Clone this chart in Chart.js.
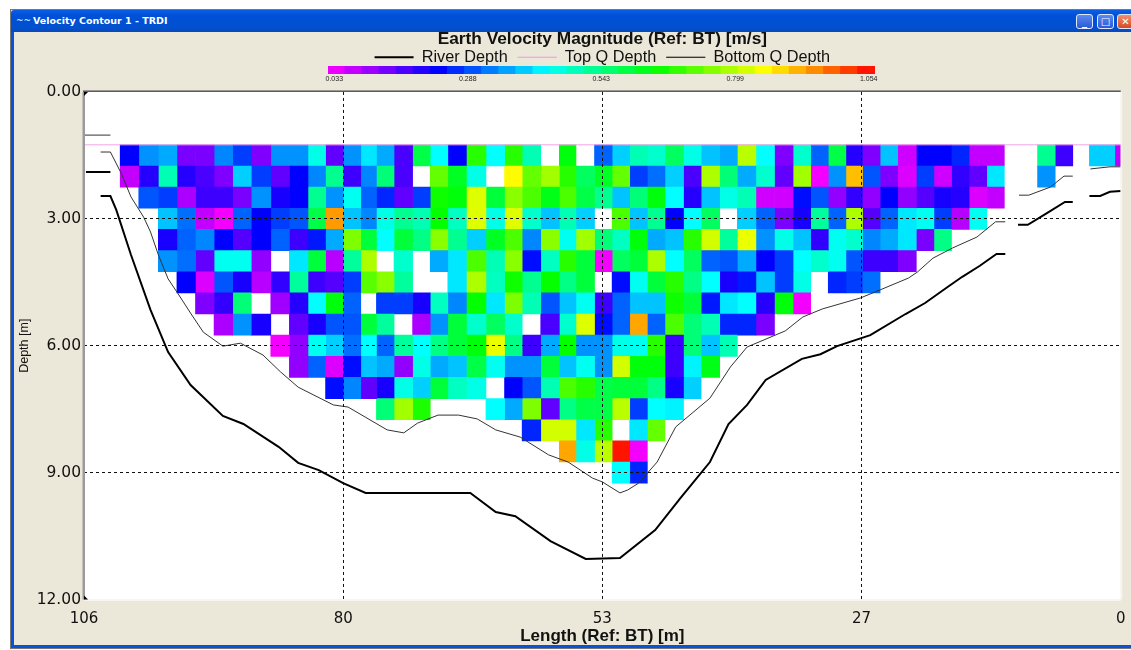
<!DOCTYPE html>
<html><head><meta charset="utf-8"><title>Velocity Contour 1 - TRDI</title>
<script src="https://cdn.jsdelivr.net/npm/chart.js@4"></script>
<style>
html,body{margin:0;padding:0;background:#fff;overflow:hidden}
#win{position:absolute;left:10px;top:9px;width:1121px;height:640px;background:#ece8d9;box-sizing:border-box;border:1px solid #777;border-right:none}
#bar{position:absolute;left:0;top:0;right:0;height:22px;background:linear-gradient(#0a5fe0,#0050d8 25%,#0050d0 80%,#0a48b8);border-radius:3px 0 0 0}
#ttl{position:absolute;left:22px;top:5px;font:bold 9.5px "DejaVu Sans",sans-serif;color:#fff;white-space:nowrap}
#ico{position:absolute;left:5px;top:5px;font:bold 9px "DejaVu Sans",sans-serif;color:#cfe0ff}
.edge{position:absolute;background:#0a50d8}
.btn{position:absolute;top:4px;width:17px;height:15px;box-sizing:border-box;border:1px solid #dfe8ff;border-radius:3px;background:linear-gradient(#5a8cf0,#2a58d8);color:#fff;font:bold 10px "DejaVu Sans",sans-serif;text-align:center;line-height:13px}
#c{position:absolute;left:0;top:0}
#cb{position:absolute;left:320px;top:62px}
</style></head><body>
<div id="win">
 <div id="bar"><span id="ico">~~</span><span id="ttl">Velocity Contour 1 - TRDI</span>
  <div class="btn" style="left:1065px">_</div><div class="btn" style="left:1086px">□</div><div class="btn" style="left:1106px;background:linear-gradient(#f09070,#d84a20)">✕</div></div>
 <div class="edge" style="left:0;top:22px;bottom:0;width:3px"></div>
 <div class="edge" style="left:0;right:0;bottom:0;height:3px"></div>
</div>
<canvas id="c" width="1131" height="650"></canvas>
<canvas id="cb" width="563" height="24"></canvas>
<script>
const chartTitle = 'Earth Velocity Magnitude (Ref: BT) [m/s]';
const xTitle = 'Length (Ref: BT) [m]';
const yTitle = 'Depth [m]';
const colorbarTicks = [0.033, 0.288, 0.543, 0.799, 1.054];

// ensemble edges along the track [m]
const columnEdges = [102.3,100.4,98.4,96.5,94.6,92.7,90.8,88.9,86.9,85.0,83.1,81.3,79.5,77.7,76.1,74.3,72.4,70.6,68.8,66.9,64.9,63.0,61.2,59.3,57.4,55.7,53.8,52.0,50.2,48.4,46.6,44.7,42.9,41.0,39.2,37.3,35.4,33.5,31.7,29.9,28.1,26.4,24.6,22.8,20.9,19.1,17.3,15.5,13.7,11.9,10.2,8.5,6.7,4.9,3.2,1.9,0.6,0];
const firstBinTop = 1.25, binHeight = 0.5;
const _ = null;
// velocity magnitude [m/s], one row per depth bin, one entry per ensemble
const velocityRows = [
[.23,.35,.37,.13,.13,.34,.28,.125,.35,.35,.46,.15,.35,.42,.37,.17,.59,.44,.23,.68,.44,.68,.5,_,.64,_,.31,.40,.5,.48,.57,.46,.39,.37,.8,.44,.125,.48,.31,.59,.2,.125,.39,.06,.23,.23,.26,.07,.07,_,_,.53,.18,_,.40,.40,.08],
[.07,.2,.5,.2,.17,.125,.40,.28,.15,.23,.34,.53,.18,.34,.55,.17,_,.73,.62,.46,_,.86,.73,.78,.68,.57,.62,.73,.28,.32,.40,.17,.79,.55,.37,.48,.15,.78,.03,.35,.91,.30,.125,.05,.28,.06,.19,.15,.42,_,_,.35],
[_,.30,.28,.09,.18,.18,.13,.35,.21,.23,.53,.35,.45,.31,.26,.15,.28,.66,.64,.83,.6,.76,.71,.63,.71,.59,.53,.39,.55,.64,.44,.2,.39,.46,.5,.06,.06,.24,.30,.11,.19,.11,.23,.11,.16,.21,.2,.05,.07],
[_,_,.39,.32,.07,.03,.31,.23,.28,.30,.59,.94,.39,.34,.46,.53,.5,.65,.49,.83,.46,.83,.48,.39,.5,.40,_,.71,.39,.53,.23,.44,.57,_,.40,.31,.13,.21,.52,.31,.79,.16,.31,.42,.45,.28,.08,.45],
[_,_,.21,.31,.34,.23,.16,.23,.31,.18,.25,.37,.75,.6,.44,.6,.54,.76,.53,.40,.62,.71,.34,.76,.45,.78,.55,.49,.64,.37,.39,.68,.82,.52,.84,.35,.46,.39,.19,.45,.48,.34,.37,.42,.13,.54],
[_,_,.35,.32,.15,.45,.45,.11,_,.42,.6,.08,.52,.79,_,.48,_,.37,.42,.71,.5,.76,.24,.49,.68,.6,.03,.57,.6,.79,.44,.57,.31,.30,.37,.23,.28,.44,.48,.45,.30,.18,.18,.125],
[_,_,_,.23,.05,.30,.21,.08,.19,.52,.18,.16,.28,.72,.76,.52,_,_,.42,.79,.49,.66,.53,.65,.54,.6,_,.24,.45,.6,.68,.54,.44,.21,.25,.39,.28,.46,_,.26,.28,.32],
[_,_,_,_,.125,.19,.55,_,.1,.2,.44,.64,.31,_,.28,.28,.21,.49,.34,.65,.42,.75,.5,.30,.39,.45,.18,.31,.39,.39,.66,.6,.25,.42,.44,.2,.64,.03],
[_,_,_,_,_,.09,.35,.21,_,.15,.21,.30,.30,.6,.52,_,.09,.35,.6,.48,.57,.48,_,.17,.48,.83,.24,.31,.93,.31,.71,.55,.5,.26,.26,.13],
[_,_,_,_,_,_,_,_,.03,.11,.45,.40,.32,.44,.31,.52,.44,.54,.6,.64,.84,.54,.18,.37,.65,.35,.35,.46,.45,.68,.18,.55,.39,.5],
[_,_,_,_,_,_,_,_,_,.11,.31,.05,.24,.39,.37,.11,.46,.37,.39,.59,.45,.35,.35,.6,.39,.45,.35,.82,.64,.64,.18,.43,.63],
[_,_,_,_,_,_,_,_,_,_,_,.24,.34,.15,.21,.46,.40,.6,.49,.46,_,.23,.30,.5,.71,.68,.59,.6,.6,.54,.21,.40],
[_,_,_,_,_,_,_,_,_,_,_,_,_,_,.55,.78,.67,_,_,_,.44,.37,.75,.15,.54,.59,.59,.8,.28,.44,.43],
[_,_,_,_,_,_,_,_,_,_,_,_,_,_,_,_,_,_,_,_,_,_,.26,.82,.82,.42,.68,_,.42,.73],
[_,_,_,_,_,_,_,_,_,_,_,_,_,_,_,_,_,_,_,_,_,_,_,_,.93,.46,.8,1.05,.03],
[_,_,_,_,_,_,_,_,_,_,_,_,_,_,_,_,_,_,_,_,_,_,_,_,_,_,_,.44,.26]
];

const riverLength = [105.8,103.3,_,104.3,103.3,102.7,101.2,99.2,97.4,95.1,91.8,89.7,86.1,84.1,82.0,79.5,77.2,66.5,63.9,61.9,58.3,54.7,51.2,47.6,45.0,42.0,40.1,38.2,36.3,32.6,30.7,29.0,25.6,22.0,20.0,17.7,16.2,14.4,12.7,11.8,_,10.5,9.5,7.5,5.7,4.9,_,3.2,2.1,1.1,0];
const riverDepth  = [1.89,1.89,_,2.46,2.46,2.79,3.85,5.15,6.15,6.93,7.66,7.85,8.39,8.77,8.94,9.25,9.48,9.48,9.93,10.03,10.62,11.04,11.02,10.36,9.60,8.75,7.85,7.40,6.81,6.31,6.20,6.01,5.75,5.25,4.99,4.61,4.37,4.11,3.83,3.83,_,3.14,3.14,2.86,2.60,2.60,_,2.46,2.46,2.36,2.34];
const bottomQLength = [105.9,103.3,_,104.3,103.3,102.2,101.2,99.9,99.2,98.4,97.4,96.3,95.1,93.8,91.8,90.0,87.7,85.9,84.1,80.5,79.0,75.0,73.3,71.9,69.8,67.7,65.8,63.9,61.4,58.5,56.5,54.0,53.0,51.2,50.4,49.3,47.4,45.5,42.0,39.9,38.2,34.3,32.5,30.5,26.6,24.6,21.7,20.8,19.2,17.2,14.7,12.8,11.8,_,10.4,9.4,7.2,5.8,4.9,_,3.1,1.1,0];
const bottomQDepth  = [1.02,1.02,_,1.42,1.42,1.92,2.48,2.96,3.31,3.85,4.42,4.80,5.23,5.68,6.01,5.94,6.22,6.62,6.98,7.40,7.45,7.99,8.06,7.83,7.64,7.64,7.73,7.99,8.16,8.58,8.75,9.13,9.22,9.48,9.41,9.25,8.75,7.92,7.24,6.50,6.03,5.65,5.32,5.13,4.87,4.68,4.40,4.26,3.93,3.69,3.43,3.07,3.07,_,2.44,2.44,2.25,1.99,1.99,_,1.82,1.77,1.77];
const topQLength = [106,0];
const topQDepth  = [1.25,1.25];

const V_MIN = 0.021, V_MAX = 1.066;
function velocityColor(v){
  const h = 300*(1-(v-V_MIN)/(V_MAX-V_MIN));
  return 'hsl('+Math.max(0,h).toFixed(1)+',100%,50%)';
}
const zipLine = (xs,ys)=>xs.map((x,i)=>({x:x===null?NaN:x,y:ys[i]}));

const plotLeft=84, plotRight=1120.7, plotTop=92, plotBottom=599.5;
const pxPerMetre=(plotRight-plotLeft)/106;

const columnDatasets = columnEdges.slice(0,-1).map((edge,c)=>{
  const next=columnEdges[c+1];
  const cells=[];
  velocityRows.forEach((row,r)=>{
    const v=row[c];
    if(v===null||v===undefined) return;
    const top=firstBinTop+r*binHeight;
    cells.push({x:(edge+next)/2,y:[top,top+binHeight],v});
  });
  return {type:'bar',label:'Ensemble '+(c+1),data:cells,grouped:false,order:2,
    barThickness:(edge-next)*pxPerMetre,borderWidth:0,borderSkipped:false,
    backgroundColor:ctx=>ctx.raw?velocityColor(ctx.raw.v):'transparent'};
});

const lineNames=['River Depth','Top Q Depth','Bottom Q Depth'];
const lineDatasets=[
 {type:'line',label:lineNames[0],data:zipLine(riverLength,riverDepth),borderColor:'#000',backgroundColor:'#000',borderWidth:2,pointRadius:0,tension:0,order:0},
 {type:'line',label:lineNames[1],data:zipLine(topQLength,topQDepth),borderColor:'#f4a4e8',backgroundColor:'#f4a4e8',borderWidth:1,pointRadius:0,tension:0,order:0},
 {type:'line',label:lineNames[2],data:zipLine(bottomQLength,bottomQDepth),borderColor:'#333',backgroundColor:'#333',borderWidth:1,pointRadius:0,tension:0,order:0}
];

const framePlugin={id:'frame',
 beforeLayout(chart){
  if(chart.legend&&!chart.legend._fixed){
   const fit=chart.legend.fit;
   chart.legend.fit=function(){fit.call(this);this.height=plotTop-39.2;};
   chart.legend._fixed=true;
  }
 },
 beforeDraw(chart){
  const a=chart.chartArea,c=chart.ctx;
  c.save();c.fillStyle='#fff';c.fillRect(a.left,a.top,a.width,a.height);c.restore();
 },
 afterDraw(chart){
  const a=chart.chartArea,c=chart.ctx;
  c.save();
  c.fillStyle='#f6f5f0';c.fillRect(a.left,a.bottom,a.width,1.5);c.fillRect(a.right,a.top,1.5,a.height);
  c.fillStyle='#555';c.fillRect(a.left-1,a.top-1.5,a.width+1,1.5);
  c.fillStyle='#9a9a9a';c.fillRect(a.left-1.5,a.top,2.5,a.height);
  c.fillStyle='#000';
  [[a.top,1],[a.bottom,-1]].forEach(([y,s])=>{c.beginPath();c.moveTo(a.left,y);c.lineTo(a.left+4,y);c.lineTo(a.left,y+4*s);c.fill();});
  c.restore();
 }};

const edgeGrid=(lo,hi)=>ctx=>{const v=ctx.tick&&ctx.tick.value;return (v===lo||v===hi)?'rgba(0,0,0,0)':'#111';};
new Chart(document.getElementById('c'),{
 type:'bar',
 data:{datasets:[...lineDatasets,...columnDatasets]},
 plugins:[framePlugin],
 options:{responsive:false,animation:false,events:[],
  layout:{padding:0},
  plugins:{
   tooltip:{enabled:false},
   title:{display:true,text:chartTitle,fullSize:false,color:'#111',font:{family:'"Liberation Sans"',size:17.3,weight:'bold',lineHeight:1.2},padding:{top:29.2,bottom:-10.8}},
   legend:{display:true,fullSize:false,position:'top',labels:{filter:i=>lineNames.includes(i.text),color:'#111',font:{family:'"Liberation Sans"',size:16.3},boxWidth:39,boxHeight:0,padding:10}}
  },
  scales:{
   x:{type:'linear',reverse:true,min:0,max:106,offset:false,
    afterFit(s){s.height=650-plotBottom;s.paddingRight=1131-plotRight;s.paddingLeft=0;},
    ticks:{stepSize:26.5,autoSkip:false,maxRotation:0,padding:11,color:'#111',font:{family:'"DejaVu Sans"',size:15},callback:v=>String(Math.round(v))},
    grid:{offset:false,drawTicks:false,z:1,lineWidth:1,color:edgeGrid(0,106)},
    border:{display:false,dash:[3,3]},
    title:{display:true,text:xTitle,color:'#111',font:{family:'"Liberation Sans"',size:17,weight:'bold',lineHeight:1.2},padding:{top:0,bottom:3}}
   },
   y:{type:'linear',reverse:true,min:0,max:12,
    afterFit(s){s.width=plotLeft;},
    ticks:{stepSize:3,padding:3,color:'#111',font:{family:'"DejaVu Sans"',size:15.5},callback:v=>v.toFixed(2)},
    grid:{drawTicks:false,z:1,lineWidth:1,color:edgeGrid(0,12)},
    border:{display:false,dash:[3,3]},
    title:{display:true,text:yTitle,color:'#111',font:{family:'"Liberation Sans"',size:12.5,lineHeight:1.2},padding:{top:17,bottom:0}}
   }
  }
 }
});

// colour scale
const BIN_COUNT=32;
const binSize=(V_MAX-V_MIN)/BIN_COUNT;
const binCentres=Array.from({length:BIN_COUNT},(_u,i)=>V_MIN+(i+.5)*binSize);
new Chart(document.getElementById('cb'),{
 type:'bar',
 data:{datasets:[{label:'Velocity scale',data:binCentres.map(v=>({x:v,y:1})),grouped:false,
   barThickness:547/BIN_COUNT+.6,borderWidth:0,backgroundColor:ctx=>velocityColor(ctx.raw?ctx.raw.x:0)}]},
 options:{responsive:false,animation:false,events:[],
  layout:{padding:{left:8,right:8,top:4,bottom:0}},
  plugins:{legend:{display:false},tooltip:{enabled:false},title:{display:false}},
  scales:{
   x:{type:'linear',min:V_MIN,max:V_MAX,offset:false,
    afterBuildTicks(s){s.ticks=colorbarTicks.map(value=>({value}));},
    afterFit(s){s.height=12;s.paddingLeft=0;s.paddingRight=0;},
    ticks:{autoSkip:false,maxRotation:0,padding:1,color:'#222',font:{family:'"Liberation Sans"',size:7},callback:v=>v.toFixed(3)},
    grid:{display:false,drawTicks:false,offset:false},border:{display:false}},
   y:{display:false,min:0,max:1}
  }
 }
});
</script>
</body></html>
